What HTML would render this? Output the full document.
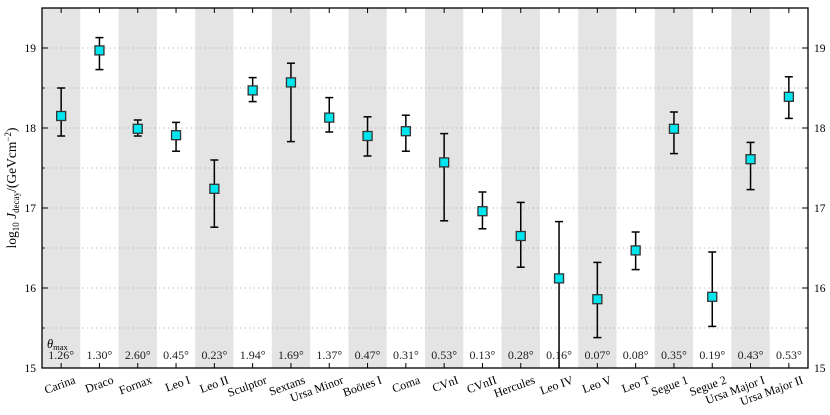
<!DOCTYPE html>
<html><head><meta charset="utf-8"><style>
body{margin:0;background:#fff;}
svg{display:block;font-family:"Liberation Serif",serif;}
</style></head><body>
<svg id="chart" width="830" height="415" viewBox="0 0 830 415"></svg>
<script>
const categories=["Carina","Draco","Fornax","Leo I","Leo II","Sculptor","Sextans","Ursa Minor","Boötes I","Coma","CVnI","CVnII","Hercules","Leo IV","Leo V","Leo T","Segue 1","Segue 2","Ursa Major I","Ursa Major II"];
const centralValues=[18.15,18.97,17.99,17.91,17.24,18.47,18.57,18.13,17.90,17.96,17.57,16.96,16.65,16.12,15.86,16.47,17.99,15.89,17.61,18.39];
const lowerValues=[17.90,18.73,17.90,17.71,16.76,18.33,17.83,17.95,17.65,17.71,16.84,16.74,16.26,14.9,15.38,16.23,17.68,15.52,17.23,18.12];
const upperValues=[18.50,19.13,18.10,18.07,17.60,18.63,18.81,18.38,18.14,18.16,17.93,17.20,17.07,16.83,16.32,16.70,18.20,16.45,17.82,18.64];
const thetaLabels=["1.26°","1.30°","2.60°","0.45°","0.23°","1.94°","1.69°","1.37°","0.47°","0.31°","0.53°","0.13°","0.28°","0.16°","0.07°","0.08°","0.35°","0.19°","0.43°","0.53°"];
const yTicks=[15,16,17,18,19];
const yMin=15,yMax=19.5;
const L=42,R=808,T=8,B=368;
const svg=document.getElementById('chart');
const NS='http://www.w3.org/2000/svg';
const bw=(R-L)/categories.length;
const xc=i=>L+bw*(i+0.5);
const y=v=>B-(v-yMin)/(yMax-yMin)*(B-T);
function mk(tag,attrs,parent){const e=document.createElementNS(NS,tag);for(const k in attrs)e.setAttribute(k,attrs[k]);(parent||svg).appendChild(e);return e;}
categories.forEach((c,i)=>{if(i%2===0){const r=mk('rect',{x:L+bw*i,y:T,width:bw,height:B-T,fill:'#e4e4e4'});

}});
for(let v=15.5;v<19.5;v+=0.5){const g=mk('line',{x1:L,x2:R,y1:y(v),y2:y(v),stroke:'#aaa','stroke-width':0.8,'stroke-dasharray':'1.5,3'});

}
yTicks.forEach(v=>{
 [[L,L+6],[R,R-6]].forEach(p=>mk('line',{x1:p[0],x2:p[1],y1:y(v),y2:y(v),stroke:'#000','stroke-width':1}));
 [L+3,R-3].forEach(p=>mk('line',{x1:p==L+3?L:R,x2:p,y1:y(v+0.5),y2:y(v+0.5),stroke:'#000','stroke-width':0.8}));
 const t=mk('text',{x:L-6,y:y(v)+4,'text-anchor':'end','font-size':11.5});t.textContent=v;
 
 
 const t2=mk('text',{x:R+6,y:y(v)+4,'font-size':11.5});t2.textContent=v;
 
 
});
categories.forEach((c,i)=>{
 const x=xc(i);
 mk('line',{x1:x,x2:x,y1:T,y2:T+5,stroke:'#000'});mk('line',{x1:x,x2:x,y1:B,y2:B-5,stroke:'#000'});
 const g=mk('g',{});
 
 
 const lo=y(lowerValues[i]);
 mk('line',{x1:x,x2:x,y1:Math.min(B,lo),y2:y(upperValues[i]),stroke:'#000','stroke-width':1.5},g);
 mk('line',{x1:x-4,x2:x+4,y1:y(upperValues[i]),y2:y(upperValues[i]),stroke:'#000','stroke-width':1.5},g);
 if(lowerValues[i]>yMin)mk('line',{x1:x-4,x2:x+4,y1:lo,y2:lo,stroke:'#000','stroke-width':1.5},g);
 mk('rect',{x:x-4.5,y:y(centralValues[i])-4.5,width:9,height:9,fill:'#00e5ee',stroke:'#333','stroke-width':1.3},g);
 const th=mk('text',{x:x,y:359,'text-anchor':'middle','font-size':12,fill:'#222'});th.textContent=thetaLabels[i];
 
 
 const lb=mk('text',{x:0,y:0,'text-anchor':'end','font-size':12,transform:`translate(${x+15},${B+15}) rotate(-20)`});lb.textContent=c;
 
 
});
const tm=mk('text',{x:47,y:348,'font-size':12.5,'font-style':'italic'});tm.innerHTML='θ<tspan font-size="8.5" font-style="normal" dy="2">max</tspan>';


const fr=mk('rect',{x:L,y:T,width:R-L,height:B-T,fill:'none',stroke:'#000','stroke-width':1.3});


const yl=mk('text',{x:0,y:0,'text-anchor':'middle','font-size':13.5,transform:`translate(16,${(T+B)/2}) rotate(-90)`});
yl.innerHTML='log<tspan font-size="9" dy="3">10</tspan><tspan dy="-3"> </tspan><tspan font-style="italic">J</tspan><tspan font-size="9" dy="3">decay</tspan><tspan dy="-3">/(GeVcm</tspan><tspan font-size="9" dy="-5">−2</tspan><tspan dy="5">)</tspan>';


</script>
</body></html>
